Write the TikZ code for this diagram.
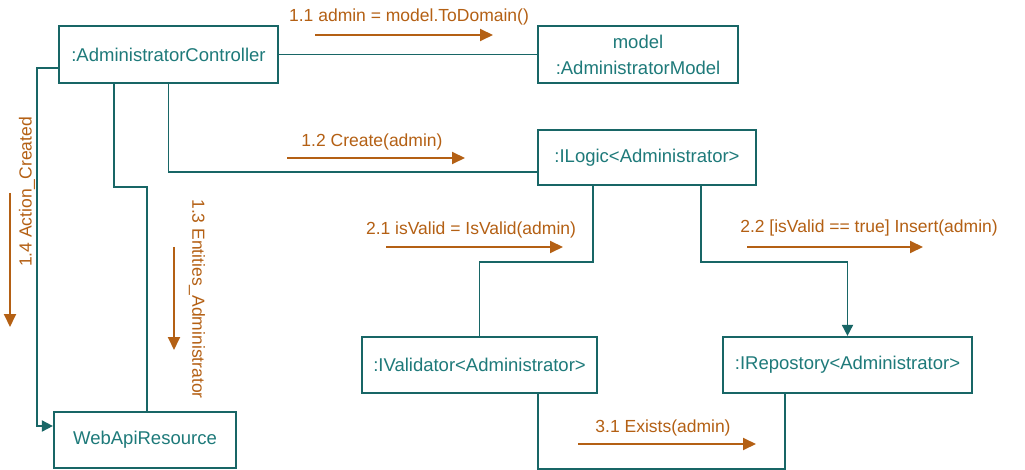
\documentclass[tikz,border=0pt]{standalone}
\usepackage{fontspec}
\setmainfont{Liberation Sans}
\usetikzlibrary{arrows.meta}
\definecolor{tealline}{RGB}{24,102,102}
\definecolor{tealtext}{RGB}{30,122,122}
\definecolor{msgcol}{RGB}{180,96,20}
\tikzset{
  obj/.style={draw=tealline, line width=2.2pt, inner sep=0pt, text=tealtext,
    font=\fontsize{18.5}{26}\selectfont, align=center},
  link/.style={draw=tealline, line width=1.8pt},
  linkarrow/.style={link, -{Triangle[length=11pt,width=11pt]}},
  msg/.style={draw=msgcol, line width=1.9pt, -{Triangle[length=13pt,width=12pt]}},
  msglabel/.style={text=msgcol, inner sep=0pt, font=\fontsize{17.5}{21}\selectfont}
}
\begin{document}
\begin{tikzpicture}[x=1pt,y=-1pt]
\useasboundingbox[fill=white] (0,0) rectangle (1025,470);

\node[obj, minimum width=219pt, minimum height=57pt] (ctrl) at (168.5,54.5) {:AdministratorController};
\node[obj, minimum width=200pt, minimum height=57pt] (model) at (638,54.5) {model\\:AdministratorModel};
\node[obj, minimum width=218pt, minimum height=55pt] (logic) at (647,157.5) {:ILogic<Administrator>};
\node[obj, minimum width=235pt, minimum height=56pt] (val) at (479.5,365) {:IValidator<Administrator>};
\node[obj, minimum width=249pt, minimum height=56pt] (rep) at (847.5,365) {:IRepostory<Administrator>};
\node[obj, minimum width=182pt, minimum height=56pt] (web) at (145,440) {WebApiResource};

% connectors
\draw[link] (ctrl.east) -- (model.west);
\draw[link] (ctrl.south) |- ([yshift=-14.5pt]logic.west);
\draw[linkarrow] ([yshift=-13.5pt]ctrl.west) -- ++(-21,0) |- ([yshift=14pt]web.west);
\draw[link] ([xshift=-54.5pt]ctrl.south) -- ++(0,103) -| ([xshift=2pt]web.north);
\draw[link] ([xshift=-54pt]logic.south) -- ++(0,76) -| (val.north);
\draw[linkarrow] ([xshift=54pt]logic.south) -- ++(0,76) -| (rep.north);
\draw[link] ([xshift=58.5pt]val.south) -- ++(0,75) -| ([xshift=-62.5pt]rep.south);

% messages
\coordinate (m11a) at (315,35); \coordinate (m11b) at (493,35);
\coordinate (m12a) at (287,158); \coordinate (m12b) at (465,158);
\coordinate (m21a) at (386,247); \coordinate (m21b) at (563,247);
\coordinate (m22a) at (747,247); \coordinate (m22b) at (923,247);
\coordinate (m31a) at (578,444); \coordinate (m31b) at (756,444);
\coordinate (m14a) at (10,193); \coordinate (m14b) at (10,327);
\coordinate (m13a) at (174,247); \coordinate (m13b) at (174,350);

\draw[msg] (m11a) -- (m11b);
\draw[msg] (m12a) -- (m12b);
\draw[msg] (m21a) -- (m21b);
\draw[msg] (m22a) -- (m22b);
\draw[msg] (m31a) -- (m31b);
\draw[msg] (m14a) -- (m14b);
\draw[msg] (m13a) -- (m13b);

\node[msglabel] (l11) at (409,17) {1.1 admin = model.ToDomain()};
\node[msglabel] (l12) at (372,142) {1.2 Create(admin)};
\node[msglabel] (l21) at (471,230) {2.1 isValid = IsValid(admin)};
\node[msglabel] (l22) at (869,228) {2.2 [isValid == true] Insert(admin)};
\node[msglabel] (l31) at (663,428) {3.1 Exists(admin)};
\node[msglabel, rotate=90] (l14) at (27,192) {1.4 Action\_Created};
\node[msglabel, rotate=-90] (l13) at (197,299) {1.3 Entities\_Administrator};
\end{tikzpicture}
\end{document}
